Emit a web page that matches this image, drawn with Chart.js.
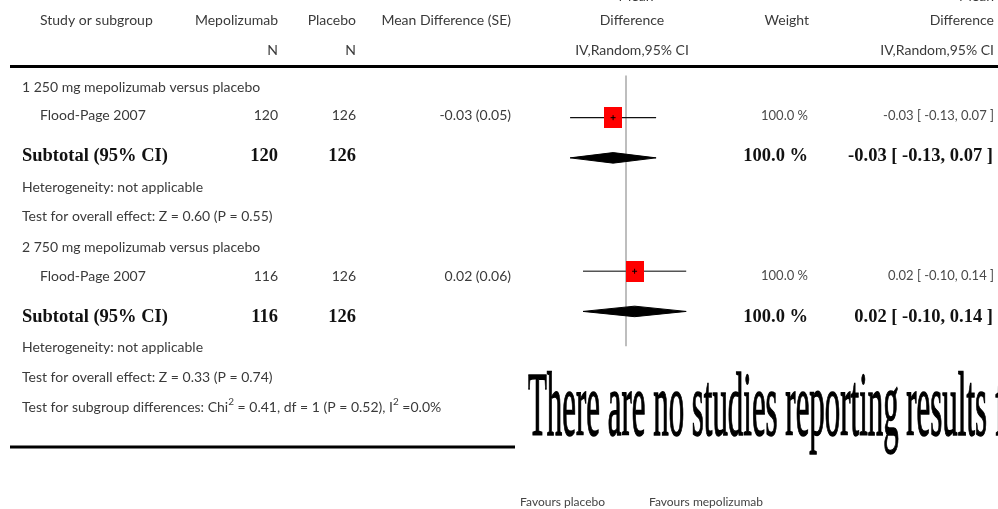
<!DOCTYPE html>
<html>
<head>
<meta charset="utf-8">
<script src="https://cdn.jsdelivr.net/npm/chart.js@4.4.1/dist/chart.umd.min.js"></script>
<style>
  html, body { margin: 0; padding: 0; background: #fff; overflow: hidden; }
  canvas { display: block; }
</style>
</head>
<body>
<canvas id="forest" width="998" height="509"></canvas>
<script>
// ---- Data: mepolizumab versus placebo, mean difference (IV, random, 95% CI) ----
const subgroupLabels = ['1 250 mg mepolizumab versus placebo', '2 750 mg mepolizumab versus placebo'];
const studyNames = ['Flood-Page 2007', 'Flood-Page 2007'];
const nMepolizumab = [120, 116];
const nPlacebo = [126, 126];
const meanDiff = [-0.03, 0.02];
const stdErr = [0.05, 0.06];
const ciLower = [-0.13, -0.10];
const ciUpper = [0.07, 0.14];
const studyWeight = [100.0, 100.0];
const subtotalMean = [-0.03, 0.02];
const subtotalLower = [-0.13, -0.10];
const subtotalUpper = [0.07, 0.14];
const subtotalWeight = [100.0, 100.0];
const overallZ = [0.60, 0.33];
const overallP = [0.55, 0.74];
const subgroupChi2 = 0.41;
const subgroupDf = 1;
const subgroupP = 0.52;
const subgroupI2 = 0.0;
const favoursLeft = 'Favours placebo';
const favoursRight = 'Favours mepolizumab';
const emptyNote = 'There are no studies reporting results for this outcome';

// ---- Row layout (vertical spacing of the table lines) ----
const FIRST_ROW = 87;
const STEP = { header: 31, study: 28.5, subtotal: 41, het: 30.5, test: 29.5, subgroup: 30 };
const rows = [];
(function buildRows() {
  let y = FIRST_ROW;
  subgroupLabels.forEach((label, g) => {
    if (g > 0) y += STEP.header;
    rows.push({ kind: 'header', g, y });
    y += STEP.study;    rows.push({ kind: 'study', g, y });
    y += STEP.subtotal; rows.push({ kind: 'subtotal', g, y });
    y += STEP.het;      rows.push({ kind: 'het', g, y });
    y += STEP.test;     rows.push({ kind: 'test', g, y });
  });
  y += STEP.subgroup;
  rows.push({ kind: 'subgroup', y });
})();
const rowOf = (kind, g) => rows.find(r => r.kind === kind && r.g === g).y;

// marks sit slightly above the text centre line of their row
const STUDY_MARK_SHIFT = -4;
const SUBTOTAL_MARK_SHIFT = -3;
const HEADER_RULE_Y = 66.5;
const BOTTOM_RULE_Y = rows[rows.length - 1].y + 40;
const DIAMOND_HALF = 5.5;

// ---- Styles ----
const SANS = '"Lato", "Open Sans", sans-serif';
const SERIF = '"Liberation Serif", "DejaVu Serif", serif';
const TEXT = '#3a3a3a';
const WHISKER_COLORS = ['#111111', '#555555'];

// Red study marker
const square = document.createElement('canvas');
square.width = 18; square.height = 21;
(function () { const c = square.getContext('2d'); c.fillStyle = '#ff0000'; c.fillRect(0, 0, 18, 21); })();

// ---- Datasets ----
const datasets = [];
// line of no effect
datasets.push({
  data: [{ x: 0, y: HEADER_RULE_Y + 1 }, { x: 0, y: rowOf('het', 1) + 3 }],
  showLine: true, borderColor: '#a8a8a8', borderWidth: 1.5, pointRadius: 0, order: 6
});
// subtotal diamonds
subgroupLabels.forEach((_, g) => {
  const y = rowOf('subtotal', g) + SUBTOTAL_MARK_SHIFT;
  datasets.push({
    data: [
      { x: subtotalLower[g], y },
      { x: subtotalMean[g], y: y - DIAMOND_HALF },
      { x: subtotalUpper[g], y },
      { x: subtotalMean[g], y: y + DIAMOND_HALF },
      { x: subtotalLower[g], y }
    ],
    showLine: true, fill: 'shape', backgroundColor: '#000', borderColor: '#000',
    borderWidth: 1, pointRadius: 0, tension: 0, order: 5
  });
});
// confidence interval whiskers
studyNames.forEach((_, i) => {
  const y = rowOf('study', i) + STUDY_MARK_SHIFT;
  datasets.push({
    data: [{ x: ciLower[i], y }, { x: ciUpper[i], y }],
    showLine: true, borderColor: WHISKER_COLORS[i], borderWidth: 1.3, pointRadius: 0, order: 4
  });
});
// study squares
const studyPoints = studyNames.map((_, i) => ({ x: meanDiff[i], y: rowOf('study', i) + STUDY_MARK_SHIFT }));
datasets.push({ data: studyPoints, pointStyle: square, pointRadius: 10, order: 3 });
// point estimate cross
datasets.push({
  data: studyPoints,
  pointStyle: 'cross', pointRadius: 2.5, borderColor: '#000', borderWidth: 1,
  backgroundColor: '#000', order: 2
});

// ---- Text helpers ----
function put(ctx, s, x, y, font, color, align) {
  ctx.font = font;
  ctx.fillStyle = color;
  ctx.textAlign = align || 'left';
  ctx.textBaseline = 'middle';
  ctx.fillText(s, x, y);
}
const f2 = v => v.toFixed(2);
const ciText = (m, lo, hi) => `${f2(m)} [ ${f2(lo)}, ${f2(hi)} ]`;
const wText = w => `${w.toFixed(1)} %`;

const tablePlugin = {
  id: 'forestTable',
  beforeDatasetsDraw(chart) {
    const ctx = chart.ctx;
    ctx.save();
    ctx.fillStyle = '#000';
    ctx.fillRect(10, HEADER_RULE_Y - 1.5, 988, 3);
    ctx.fillRect(10, BOTTOM_RULE_Y - 1.5, 505, 3);
    ctx.restore();
  },
  afterDraw(chart) {
    const ctx = chart.ctx;
    const xs = chart.scales.x;
    const zeroX = xs.getPixelForValue(0);
    const reg = `14px ${SANS}`;
    const small = `13px ${SANS}`;
    const bold = `bold 18.5px ${SERIF}`;
    ctx.save();

    // column headers
    put(ctx, 'Study or subgroup', 40, 20, reg, TEXT);
    put(ctx, 'Mepolizumab', 278, 20, reg, TEXT, 'right');
    put(ctx, 'Placebo', 356, 20, reg, TEXT, 'right');
    put(ctx, 'Mean Difference (SE)', 511, 20, reg, TEXT, 'right');
    put(ctx, 'N', 278, 50, reg, TEXT, 'right');
    put(ctx, 'N', 356, 50, reg, TEXT, 'right');
    put(ctx, 'Mean', 636, -4, reg, TEXT, 'center');
    put(ctx, 'Difference', 632, 20, reg, TEXT, 'center');
    put(ctx, 'IV,Random,95% CI', 632, 50, reg, TEXT, 'center');
    put(ctx, 'Weight', 809, 20, reg, TEXT, 'right');
    put(ctx, 'Mean', 994, -4, reg, TEXT, 'right');
    put(ctx, 'Difference', 994, 20, reg, TEXT, 'right');
    put(ctx, 'IV,Random,95% CI', 994, 50, reg, TEXT, 'right');

    rows.forEach(r => {
      const g = r.g;
      if (r.kind === 'header') {
        put(ctx, subgroupLabels[g], 22, r.y, reg, TEXT);
      } else if (r.kind === 'study') {
        put(ctx, studyNames[g], 40, r.y, reg, TEXT);
        put(ctx, String(nMepolizumab[g]), 278, r.y, reg, TEXT, 'right');
        put(ctx, String(nPlacebo[g]), 356, r.y, reg, TEXT, 'right');
        put(ctx, `${f2(meanDiff[g])} (${f2(stdErr[g])})`, 511, r.y, reg, TEXT, 'right');
        put(ctx, wText(studyWeight[g]), 808, r.y, small, '#4a4a4a', 'right');
        put(ctx, ciText(meanDiff[g], ciLower[g], ciUpper[g]), 994, r.y, small, '#4a4a4a', 'right');
      } else if (r.kind === 'subtotal') {
        put(ctx, 'Subtotal (95% CI)', 22, r.y, bold, '#111');
        put(ctx, String(nMepolizumab[g]), 278, r.y, bold, '#111', 'right');
        put(ctx, String(nPlacebo[g]), 356, r.y, bold, '#111', 'right');
        put(ctx, wText(subtotalWeight[g]), 808, r.y, bold, '#111', 'right');
        put(ctx, ciText(subtotalMean[g], subtotalLower[g], subtotalUpper[g]), 993, r.y, bold, '#111', 'right');
      } else if (r.kind === 'het') {
        put(ctx, 'Heterogeneity: not applicable', 22, r.y, reg, TEXT);
      } else if (r.kind === 'test') {
        put(ctx, `Test for overall effect: Z = ${f2(overallZ[g])} (P = ${f2(overallP[g])})`, 22, r.y, reg, TEXT);
      } else if (r.kind === 'subgroup') {
        // text runs with superscript 2s
        const runs = [
          ['Test for subgroup differences: Chi', false],
          ['2', true],
          [` = ${f2(subgroupChi2)}, df = ${subgroupDf} (P = ${f2(subgroupP)}), I`, false],
          ['2', true],
          [` =${subgroupI2.toFixed(1)}%`, false]
        ];
        let x = 22;
        runs.forEach(([s, sup]) => {
          const font = sup ? `10px ${SANS}` : reg;
          put(ctx, s, x, sup ? r.y - 5 : r.y, font, TEXT);
          ctx.font = font;
          x += ctx.measureText(s).width;
        });
      }
    });

    // axis captions
    put(ctx, favoursLeft, zeroX - 21, 502, `12px ${SANS}`, '#444', 'right');
    put(ctx, favoursRight, zeroX + 23, 502, `12px ${SANS}`, '#444', 'left');

    // condensed notice across the lower right
    ctx.font = `91px ${SERIF}`;
    const fitWidth = ctx.measureText('There are no studies reporting results').width;
    const sx = 459 / fitWidth;
    ctx.translate(528, 435);
    ctx.scale(sx, 1);
    ctx.fillStyle = '#000';
    ctx.strokeStyle = '#000';
    ctx.lineWidth = 1.5;
    ctx.textAlign = 'left';
    ctx.textBaseline = 'alphabetic';
    ctx.fillText(emptyNote, 0, 0);
    ctx.strokeText(emptyNote, 0, 0);
    ctx.restore();
  }
};

new Chart(document.getElementById('forest'), {
  type: 'scatter',
  data: { datasets },
  options: {
    responsive: false,
    animation: false,
    devicePixelRatio: 1,
    layout: { padding: { left: 518.5, right: 264.5, top: 0, bottom: 0 } },
    scales: {
      x: { type: 'linear', min: -0.25, max: 0.25, display: false },
      y: { type: 'linear', min: 0, max: 509, reverse: true, display: false }
    },
    plugins: { legend: { display: false }, tooltip: { enabled: false } },
    elements: { line: { tension: 0 } }
  },
  plugins: [tablePlugin]
});
</script>
</body>
</html>
